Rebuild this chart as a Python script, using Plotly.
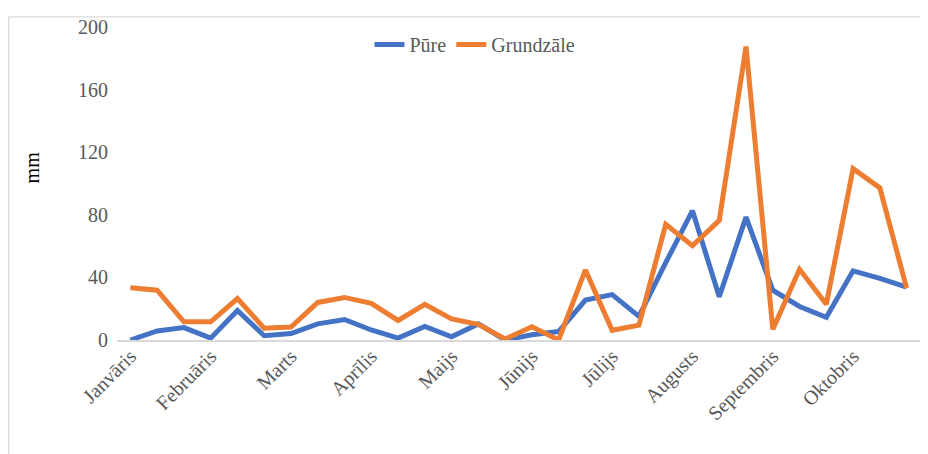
import plotly.graph_objects as go

months = ["Janvāris", "Februāris", "Marts", "Aprīlis", "Maijs", "Jūnijs",
          "Jūlijs", "Augusts", "Septembris", "Oktobris"]
decades_per_month = 3
pure = [0, 5.8, 7.9, 1.2, 18.9, 2.7, 4.1, 10.3, 13.1, 6.4, 1.2, 8.7, 2, 10.3, 0,
        3.3, 5.4, 25.5, 29, 15.1, 49.4, 82.6, 27.6, 78.5, 31.8, 21.4, 14.5, 44.2, 39.4, 33.8]
grundzale = [33.4, 31.8, 11.6, 11.6, 26.5, 7.5, 8.3, 24, 27.2, 23.4, 12.5, 22.8, 13.5, 10, 0.6,
             8.5, 0, 44.8, 6.2, 9.5, 73.9, 60.2, 76.4, 187.5, 6.8, 45.2, 22.8, 109.5, 97.2, 33.2]
y_ticks = [0, 40, 80, 120, 160, 200]

x = list(range(len(pure)))
tickvals = [i * decades_per_month for i in range(len(months))]

FONT = "Liberation Serif"
GRAY = "#595959"

fig = go.Figure()
fig.add_trace(go.Scatter(x=x, y=pure, mode="lines", name="Pūre",
                         line=dict(color="#4472C4", width=5)))
fig.add_trace(go.Scatter(x=x, y=grundzale, mode="lines", name="Grundzāle",
                         line=dict(color="#ED7D31", width=5)))

# page body has an 8px margin; work in viewport coordinates
OFF = 8
W, H = 928 - OFF, 454 - OFF
PX0, PX1, PY0, PY1 = 117, 920, 19, 340  # plot area in viewport px
L, R, T, B = PX0 - OFF, W - (PX1 - OFF), PY0 - OFF, H - (PY1 - OFF)
pw, ph = PX1 - PX0, PY1 - PY0


def px(vx):
    return (vx - PX0) / pw


def py(vy):
    return 1 - (vy - PY0) / ph


fig.update_layout(
    width=W, height=H,
    margin=dict(l=L, r=R, t=T, b=B),
    paper_bgcolor="white", plot_bgcolor="white",
    font=dict(family=FONT, size=20, color=GRAY),
    showlegend=True,
    legend=dict(orientation="h", x=px(475), y=py(37),
                xanchor="center", yanchor="middle",
                font=dict(family=FONT, size=20, color=GRAY),
                bgcolor="rgba(0,0,0,0)", itemwidth=30),
    xaxis=dict(range=[-0.5, len(pure) - 0.5], tickmode="array",
               tickvals=tickvals, ticktext=months, tickangle=-45,
               showgrid=False, zeroline=False, showline=True,
               linecolor="#d9d9d9", linewidth=1.5, ticks="",
               ticklabelstandoff=-5,
               tickfont=dict(family=FONT, size=20, color=GRAY)),
    yaxis=dict(range=[0, 200], tickmode="array", tickvals=y_ticks,
               showgrid=False, zeroline=False, showline=False, ticks="",
               ticklabelstandoff=8,
               tickfont=dict(family=FONT, size=20, color=GRAY)),
    annotations=[dict(text="mm", xref="paper", yref="paper",
                      x=px(32), y=py(163), textangle=-90,
                      showarrow=False, xanchor="center", yanchor="middle",
                      font=dict(family=FONT, size=20, color="#000000"))],
    shapes=[
        dict(type="line", xref="paper", yref="paper",
             x0=px(OFF + 0.6), x1=px(OFF + 0.6), y0=-0.5, y1=py(OFF + 0.6),
             line=dict(color="#d9d9d9", width=1.2)),
        dict(type="line", xref="paper", yref="paper",
             x0=px(OFF + 0.6), x1=1.2, y0=py(OFF + 0.6), y1=py(OFF + 0.6),
             line=dict(color="#d9d9d9", width=1.2)),
    ],
)

fig.write_html("out.html")
